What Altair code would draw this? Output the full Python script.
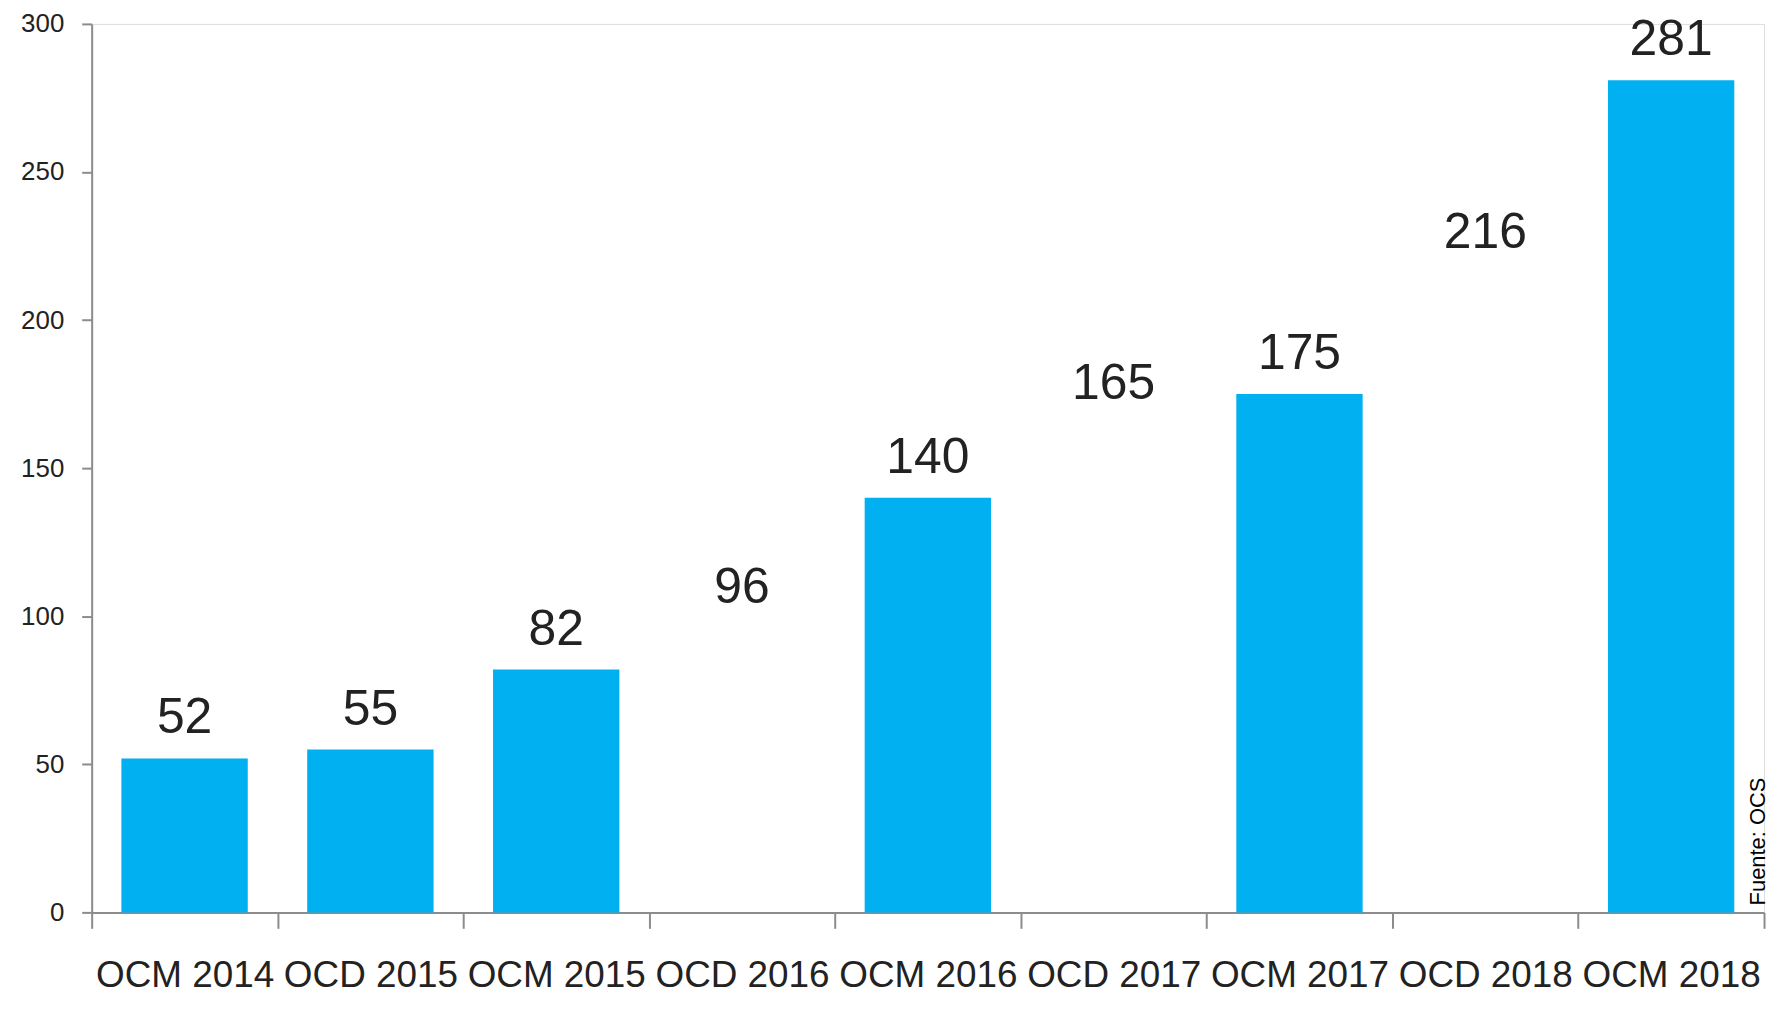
import altair as alt
import pandas as pd

categories = ["OCM 2014", "OCD 2015", "OCM 2015", "OCD 2016", "OCM 2016",
              "OCD 2017", "OCM 2017", "OCD 2018", "OCM 2018"]
values = [52, 55, 82, 96, 140, 165, 175, 216, 281]
bar_drawn = ["yes", "yes", "yes", "no", "yes", "no", "yes", "no", "yes"]
y_ticks = [0, 50, 100, 150, 200, 250, 300]
source_note = ["Fuente: OCS"]

df = pd.DataFrame({"cat": categories, "val": values, "drawn": bar_drawn})

W = 1679
H = 892
AXIS_GRAY = "#8c8c8c"
TEXT = "#222222"
FONT = "Liberation Sans, Arial, sans-serif"

x = alt.X("cat:N", sort=categories, title=None,
          scale=alt.Scale(paddingInner=0, paddingOuter=0),
          axis=alt.Axis(labelAngle=0, labelFontSize=37, labelFont=FONT,
                        labelColor=TEXT, labelPadding=29, tickSize=16,
                        labelLimit=0,
                        tickBand="extent", tickColor=AXIS_GRAY, tickWidth=2,
                        domainColor=AXIS_GRAY, domainWidth=2))
y = alt.Y("val:Q", title=None,
          scale=alt.Scale(domain=[0, 300], nice=False),
          axis=alt.Axis(values=y_ticks, labelFontSize=26, labelFont=FONT,
                        labelColor=TEXT, labelPadding=18, tickSize=10,
                        tickColor=AXIS_GRAY, tickWidth=2,
                        domainColor=AXIS_GRAY, domainWidth=2, grid=False))

base = alt.Chart(df)

bars = base.mark_bar(width=alt.RelativeBandSize(0.68), color="#00B0F0").encode(
    x=x, y=y,
    opacity=alt.Opacity("drawn:N", legend=None,
                        scale=alt.Scale(domain=["yes", "no"], range=[1, 0])),
)

labels = base.mark_text(fontSize=50, font=FONT, color=TEXT,
                        baseline="alphabetic", dy=-25).encode(
    x=alt.X("cat:N", sort=categories), y=alt.Y("val:Q"), text="val:Q")

note = alt.Chart(pd.DataFrame({"t": source_note})).mark_text(
    fontSize=22, font=FONT, color="#000000", angle=270,
    align="left", baseline="alphabetic").encode(
    text="t:N", x=alt.value(W + 1), y=alt.value(H - 7))

chart = alt.layer(bars, labels, note).properties(
    width=W, height=H,
    autosize=alt.AutoSizeParams(type="none"),
    padding={"left": 84, "top": 14, "right": 6, "bottom": 88},
).configure_view(stroke=None).configure(background="white")

chart.save("out.html", embed_options={"renderer": "svg", "actions": False})
